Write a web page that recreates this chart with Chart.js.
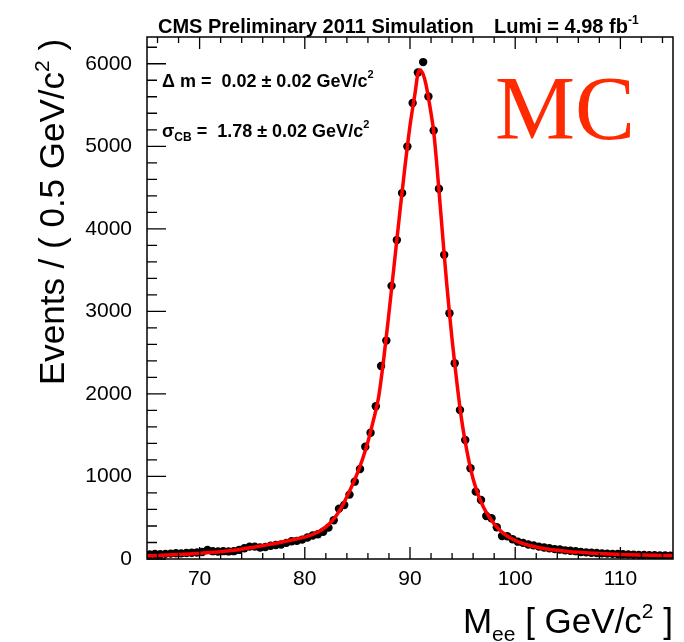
<!DOCTYPE html>
<html>
<head>
<meta charset="utf-8">
<script src="https://cdn.jsdelivr.net/npm/chart.js@4/dist/chart.umd.min.js"></script>
<style>
  body { margin: 0; background: #fff; }
  canvas { display: block; }
</style>
</head>
<body>
<canvas id="zeeCanvas" width="684" height="642"></canvas>
<script>
// histogram: 0.5 GeV bins from 65 to 115
const binLow = 65;
const binWidth = 0.5;
const events = [
  55, 60, 58, 62, 65, 70, 68, 72, 75, 78,
  85, 110, 95, 90, 95, 92, 95, 110, 130, 150,
  150, 140, 145, 160, 170, 175, 195, 215, 220, 235,
  260, 285, 300, 330, 380, 470, 610, 655, 780, 937,
  1090, 1361, 1530, 1850, 2339, 2646, 3309, 3865, 4433, 4998,
  5524, 5895, 6020, 5604, 5192, 4485, 3685, 2978, 2372, 1806,
  1442, 1099, 816, 715, 521, 493, 384, 279, 275, 240,
  210, 195, 175, 165, 150, 140, 130, 120, 115, 105,
  100, 95, 85, 80, 75, 72, 68, 65, 62, 60,
  58, 55, 52, 50, 48, 47, 45, 44, 42, 40
];

// fitted lineshape
const curveMass = [
  65, 66, 67, 68, 69, 70, 71, 72, 73, 74, 75, 76, 77, 78, 79, 80, 80.5, 81, 81.5, 82,
  82.5, 83, 83.5, 84, 84.5, 85, 85.5, 86, 86.5, 87, 87.5, 88, 88.5, 89, 89.5, 90, 90.5,
  90.75, 91, 91.25, 91.5, 91.75, 92, 92.25, 92.5, 92.75, 93, 93.25, 93.5, 93.75, 94,
  94.25, 94.5, 94.75, 95, 95.25, 95.5, 95.75, 96, 96.5, 97, 97.5, 98, 98.5, 99, 99.5,
  100, 100.5, 101, 102, 103, 104, 105, 106, 107, 108, 109, 110, 111, 112, 113, 114, 115
];
const curveEvents = [
  38, 43, 48, 54, 61, 69, 78, 89, 102, 119, 140, 162, 185, 210, 236, 265, 285, 312, 345, 388,
  448, 528, 628, 755, 890, 1040, 1215, 1420, 1670, 1950, 2420, 2980, 3570, 4160, 4730, 5250, 5660,
  5880, 5925, 5870, 5760, 5590, 5400, 5180, 4850, 4470, 4080, 3690, 3320, 2980, 2660,
  2370, 2090, 1830, 1610, 1420, 1250, 1100, 970, 770, 625, 515, 425, 355, 300, 258,
  225, 198, 177, 145, 122, 105, 92, 82, 74, 67, 61, 56, 52, 49, 46, 43, 41
];

const xTickValues = [70, 80, 90, 100, 110];
const yTickValues = [0, 1000, 2000, 3000, 4000, 5000, 6000];
const xMin = 65, xMax = 115;
const yMin = 0, yMax = 6324;

const titleLeft = 'CMS Preliminary 2011 Simulation';
const titleRight = 'Lumi = 4.98 fb';
const fontSans = '"Liberation Sans", Arial, Helvetica, sans-serif';

const histPoints = events.map((v, i) => ({ x: binLow + binWidth * (i + 0.5), y: v }));
const curvePoints = curveMass.map((m, i) => ({ x: m, y: curveEvents[i] }));

// draws text pieces one after another; each piece may be raised (negative dy) or lowered
function drawPieces(ctx, pieces, x, y) {
  let cx = x;
  pieces.forEach(p => {
    ctx.font = p.font;
    ctx.fillText(p.text, cx, y + (p.dy || 0));
    cx += ctx.measureText(p.text).width;
  });
  return cx;
}
function piecesWidth(ctx, pieces) {
  let w = 0;
  pieces.forEach(p => { ctx.font = p.font; w += ctx.measureText(p.text).width; });
  return w;
}

// ROOT style frame with inside ticks
const frameTicks = {
  id: 'frameTicks',
  afterDatasetsDraw(chart) {
    const { ctx, chartArea: a, scales: { x, y } } = chart;
    ctx.save();
    ctx.strokeStyle = '#000';
    ctx.lineWidth = 1.3;
    ctx.beginPath();
    for (let v = 0; v <= 6200; v += 200) {
      const py = y.getPixelForValue(v);
      const len = v % 1000 === 0 ? 19 : 10;
      ctx.moveTo(a.left, py);
      ctx.lineTo(a.left + len, py);
    }
    for (let v = 66; v <= 114; v += 2) {
      const px = x.getPixelForValue(v);
      const len = v % 10 === 0 ? 12 : 6;
      ctx.moveTo(px, a.bottom);
      ctx.lineTo(px, a.bottom - len);
      ctx.moveTo(px, a.top);
      ctx.lineTo(px, a.top + len);
    }
    ctx.stroke();
    ctx.lineWidth = 1.5;
    ctx.strokeRect(a.left, a.top, a.right - a.left, a.bottom - a.top);
    ctx.restore();
  }
};

const labels = {
  id: 'labels',
  afterDraw(chart) {
    const { ctx, chartArea: a } = chart;
    ctx.save();
    ctx.fillStyle = '#000';
    ctx.textBaseline = 'alphabetic';
    ctx.textAlign = 'left';

    // header
    const bold20 = 'bold 20px ' + fontSans;
    drawPieces(ctx, [{ text: titleLeft, font: bold20 }], 158, 33);
    drawPieces(ctx, [
      { text: titleRight, font: bold20 },
      { text: '-1', font: 'bold 12px ' + fontSans, dy: -9 }
    ], 494, 33);

    // fit results
    const b18 = 'bold 18px ' + fontSans;
    const sup = 'bold 11px ' + fontSans;
    drawPieces(ctx, [
      { text: '\u0394 m =  0.02 \u00b1 0.02 GeV/c', font: b18 },
      { text: '2', font: sup, dy: -9 }
    ], 162, 87);
    drawPieces(ctx, [
      { text: '\u03c3', font: b18 },
      { text: 'CB', font: 'bold 12px ' + fontSans, dy: 4 },
      { text: ' =  1.78 \u00b1 0.02 GeV/c', font: b18 },
      { text: '2', font: sup, dy: -9 }
    ], 162, 137);

    // MC tag
    ctx.fillStyle = '#ff2a00';
    ctx.font = '90px "Liberation Serif", "Times New Roman", serif';
    ctx.fillText('MC', 495, 139);
    ctx.fillStyle = '#000';

    // x axis title
    const t35 = '35px ' + fontSans;
    const s21 = '21px ' + fontSans;
    const xTitle = [
      { text: 'M', font: t35 },
      { text: 'ee', font: s21, dy: 8 },
      { text: ' [ GeV/c', font: t35 },
      { text: '2', font: s21, dy: -15 },
      { text: ' ]', font: t35 }
    ];
    drawPieces(ctx, xTitle, a.right - piecesWidth(ctx, xTitle), 633);

    // y axis title
    const yTitle = [
      { text: 'Events / ( 0.5 GeV/c', font: t35 },
      { text: '2', font: s21, dy: -15 },
      { text: ' )', font: t35 }
    ];
    ctx.translate(64, 212);
    ctx.rotate(-Math.PI / 2);
    drawPieces(ctx, yTitle, -piecesWidth(ctx, yTitle) / 2, 0);
    ctx.restore();
  }
};

const ctx = document.getElementById('zeeCanvas').getContext('2d');
const zeeChart = new Chart(ctx, {
  type: 'scatter',
  data: {
    datasets: [{
      label: 'fit',
      data: curvePoints,
      showLine: true,
      borderColor: '#ff0000',
      borderWidth: 3.5,
      pointRadius: 0,
      cubicInterpolationMode: 'monotone',
      fill: false
    }, {
      label: 'MC',
      data: histPoints,
      backgroundColor: '#000',
      borderColor: '#000',
      pointRadius: 4.2,
      pointBorderWidth: 0
    }]
  },
  options: {
    responsive: false,
    animation: false,
    layout: { padding: { top: 37, right: 11, left: 0, bottom: 0 } },
    plugins: {
      legend: { display: false },
      tooltip: { enabled: false }
    },
    scales: {
      x: {
        type: 'linear',
        min: xMin,
        max: xMax,
        grid: { display: false, drawTicks: false },
        border: { display: false },
        afterFit: s => { s.height = 83; },
        afterBuildTicks: s => { s.ticks = xTickValues.map(v => ({ value: v })); },
        ticks: {
          padding: 8,
          color: '#000',
          font: { family: fontSans, size: 21 },
          maxRotation: 0,
          autoSkip: false
        }
      },
      y: {
        type: 'linear',
        min: yMin,
        max: yMax,
        grid: { display: false, drawTicks: false },
        border: { display: false },
        afterFit: s => { s.width = 147; },
        afterBuildTicks: s => { s.ticks = yTickValues.map(v => ({ value: v })); },
        ticks: {
          padding: 15,
          color: '#000',
          font: { family: fontSans, size: 21 },
          autoSkip: false,
          callback: v => String(v)
        }
      }
    }
  },
  plugins: [frameTicks, labels]
});
</script>
</body>
</html>
